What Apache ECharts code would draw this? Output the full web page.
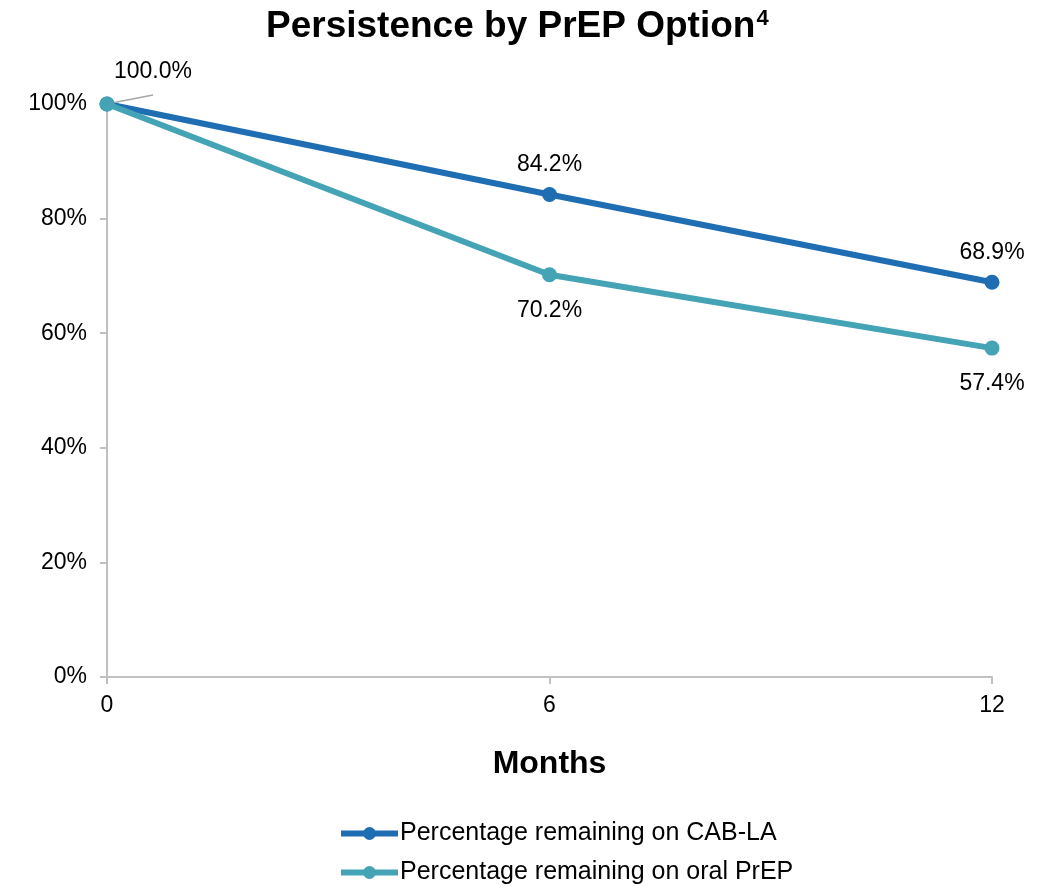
<!DOCTYPE html>
<html>
<head>
<meta charset="utf-8">
<script src="https://cdn.jsdelivr.net/npm/echarts@6/dist/echarts.min.js"></script>
<style>
  html, body { margin: 0; padding: 0; background: #fff; }
  #chart { width: 1058px; height: 886px; }
</style>
</head>
<body>
<div id="chart"></div>
<script>
// Months since starting PrEP
const months = [0, 6, 12];
// Share of people still on each option (%)
const cabLa = [100, 84.2, 68.9];
const oralPrep = [100, 70.2, 57.4];
const seriesNames = ['Percentage remaining on CAB-LA', 'Percentage remaining on oral PrEP'];
const colors = ['#1f6db3', '#45a3b6'];

const FONT = '"Liberation Sans", Arial, sans-serif';
const LABEL_SIZE = 23;

function pct(v) { return v.toFixed(1) + '%'; }

// CAB-LA labels sit above the markers, oral PrEP labels below
const cabData = months.map((m, i) => ({
  value: [m, cabLa[i]],
  label: { show: i > 0, position: 'top', distance: 11 }
}));
const oralData = months.map((m, i) => {
  if (i === 0) {
    return {
      value: [m, oralPrep[i]],
      label: { show: true, position: 'top', offset: [46, -8] },
      labelLine: { show: true, lineStyle: { color: '#a6a6a6', width: 1.5 } }
    };
  }
  return { value: [m, oralPrep[i]], label: { show: true, position: 'bottom', distance: 17 } };
});

const chart = echarts.init(document.getElementById('chart'), null, { renderer: 'canvas' });
chart.setOption({
  animation: false,
  backgroundColor: '#fff',
  title: {
    text: '{t|Persistence by PrEP Option}{s|4}',
    left: 261,
    top: 3,
    textStyle: {
      rich: {
        t: { fontFamily: FONT, fontWeight: 'bold', fontSize: 37, color: '#000' },
        s: { fontFamily: FONT, fontWeight: 'bold', fontSize: 22, color: '#000', verticalAlign: 'top', padding: [0, 0, 14, 1] }
      }
    }
  },
  grid: { left: 107, right: 66, top: 104, bottom: 209, containLabel: false },
  legend: {
    orient: 'vertical',
    left: 333,
    top: 816,
    height: 120,
    itemWidth: 57,
    itemHeight: 16,
    itemGap: 14,
    lineStyle: { width: 6 },
    textStyle: { fontFamily: FONT, fontSize: 25, color: '#000', padding: [0, 0, 0, -3] },
    data: seriesNames
  },
  xAxis: {
    type: 'value',
    min: 0,
    max: 12,
    interval: 6,
    name: 'Months',
    nameLocation: 'middle',
    nameGap: 71,
    nameTextStyle: { fontFamily: FONT, fontWeight: 'bold', fontSize: 32, color: '#000' },
    axisLine: { show: true, lineStyle: { color: '#c0c0c0', width: 2 } },
    axisTick: { show: true, length: 7, lineStyle: { color: '#c0c0c0', width: 2 } },
    axisLabel: { fontFamily: FONT, fontSize: LABEL_SIZE, color: '#000', margin: 17 },
    splitLine: { show: false }
  },
  yAxis: {
    type: 'value',
    min: 0,
    max: 100,
    interval: 20,
    axisLine: { show: true, lineStyle: { color: '#c0c0c0', width: 2 } },
    axisTick: { show: true, length: 7, lineStyle: { color: '#c0c0c0', width: 2 } },
    axisLabel: { fontFamily: FONT, fontSize: LABEL_SIZE, color: '#000', margin: 20, formatter: '{value}%' },
    splitLine: { show: false }
  },
  series: [
    {
      name: seriesNames[0],
      type: 'line',
      data: cabData,
      color: colors[0],
      lineStyle: { width: 6 },
      symbol: 'circle',
      symbolSize: 15,
      label: { fontFamily: FONT, fontSize: LABEL_SIZE, color: '#000', formatter: p => pct(p.value[1]) },
      z: 2
    },
    {
      name: seriesNames[1],
      type: 'line',
      data: oralData,
      color: colors[1],
      lineStyle: { width: 6 },
      symbol: 'circle',
      symbolSize: 15,
      label: { fontFamily: FONT, fontSize: LABEL_SIZE, color: '#000', formatter: p => pct(p.value[1]) },
      z: 3
    }
  ]
});
</script>
</body>
</html>
